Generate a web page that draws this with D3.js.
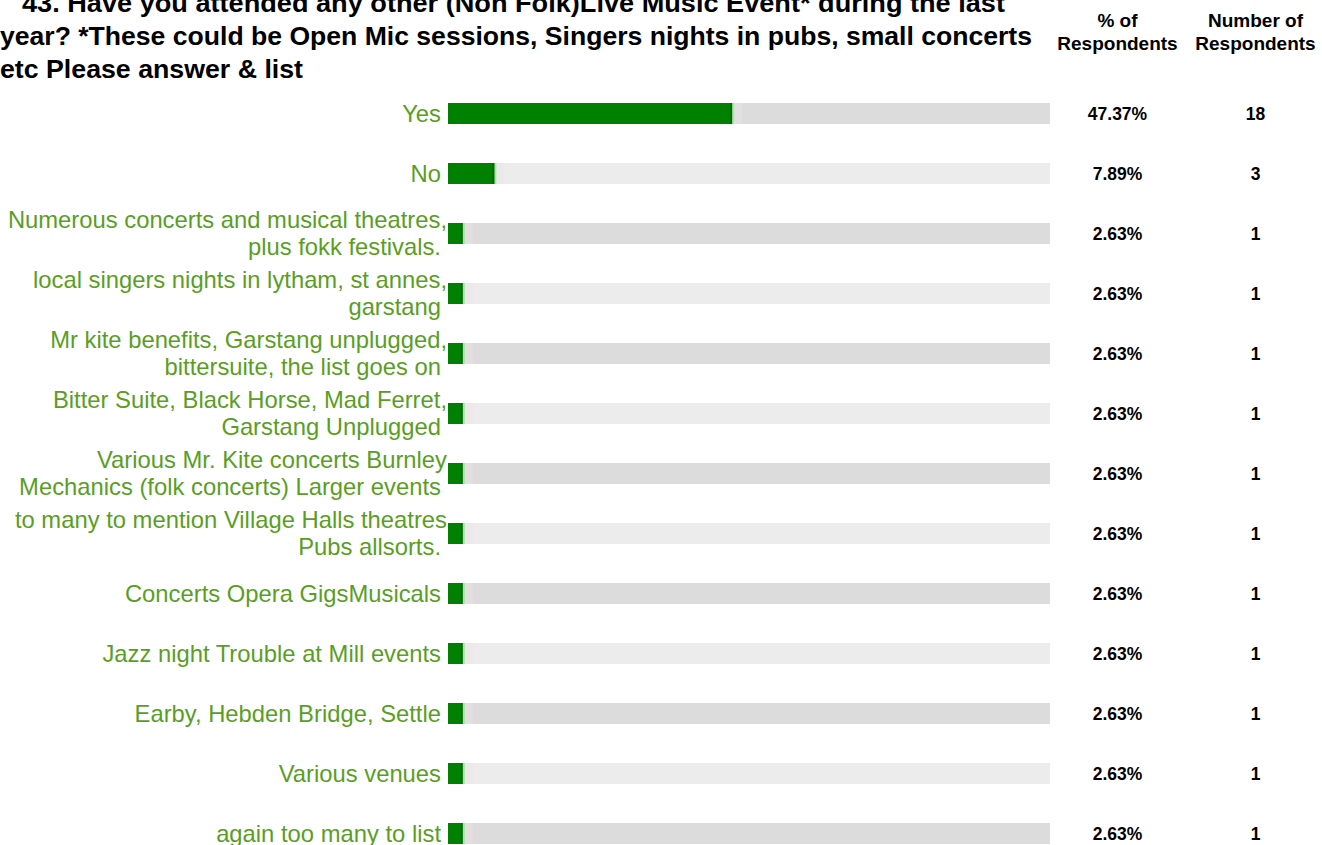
<!DOCTYPE html>
<html>
<head>
<meta charset="utf-8">
<script src="https://cdn.jsdelivr.net/npm/d3@7"></script>
<style>
  body { margin: 0; background: #fff; }
  svg { display: block; font-family: "Liberation Sans", Arial, sans-serif; }
</style>
</head>
<body>
<svg id="chart" width="1322" height="845"></svg>
<script>
// title lines as they wrap in the picture
var titleLines = [
    "43. Have you attended any other (Non Folk)Live Music Event* during the last",
    "year? *These could be Open Mic sessions, Singers nights in pubs, small concerts",
    "etc Please answer & list"
];

// answer labels (each entry holds its wrapped lines)
var answers = [
    ["Yes"],
    ["No"],
    ["Numerous concerts and musical theatres,", "plus fokk festivals."],
    ["local singers nights in lytham, st annes,", "garstang"],
    ["Mr kite benefits, Garstang unplugged,", "bittersuite, the list goes on"],
    ["Bitter Suite, Black Horse, Mad Ferret,", "Garstang Unplugged"],
    ["Various Mr. Kite concerts Burnley", "Mechanics (folk concerts) Larger events"],
    ["to many to mention Village Halls theatres", "Pubs allsorts."],
    ["Concerts Opera GigsMusicals"],
    ["Jazz night Trouble at Mill events"],
    ["Earby, Hebden Bridge, Settle"],
    ["Various venues"],
    ["again too many to list"]
];

var percents = [47.37, 7.89, 2.63, 2.63, 2.63, 2.63, 2.63, 2.63, 2.63, 2.63, 2.63, 2.63, 2.63];
var counts = [18, 3, 1, 1, 1, 1, 1, 1, 1, 1, 1, 1, 1];

var headers = [["% of", "Respondents"], ["Number of", "Respondents"]];

var svg = d3.select("#chart");

var x = d3.scaleLinear().domain([0, 100]).range([448, 1050]);
var y = d3.scaleBand()
    .domain(d3.range(answers.length))
    .range([83.5, 863.5])
    .paddingInner(0.65)
    .paddingOuter(0.325);

var labelColor = "#5a9e1f";

// title
var titleWidths = [983, 1032, 303];
var titleX = [22, 0, 0];
svg.append("g").selectAll("text")
    .data(titleLines)
    .enter()
    .append("text")
    .attr("x", (d, i) => titleX[i])
    .attr("y", (d, i) => 12 + i * 33)
    .attr("textLength", (d, i) => titleWidths[i])
    .attr("lengthAdjust", "spacingAndGlyphs")
    .style("font-size", "26.5px")
    .style("font-weight", "bold")
    .attr("fill", "#000")
    .text(d => d);

// column headers
var colX = [1117.5, 1255.5];
headers.forEach(function (h, c) {
    svg.append("g").selectAll("text")
        .data(h)
        .enter()
        .append("text")
        .attr("x", colX[c])
        .attr("y", (d, i) => 27 + i * 23)
        .attr("text-anchor", "middle")
        .style("font-size", "19px")
        .style("font-weight", "bold")
        .text(d => d);
});

var rows = svg.append("g").selectAll("g")
    .data(answers)
    .enter()
    .append("g");

// track behind each bar
rows.append("rect")
    .attr("x", x(0))
    .attr("y", (d, i) => y(i))
    .attr("width", x(100) - x(0))
    .attr("height", y.bandwidth())
    .attr("fill", (d, i) => i % 2 == 0 ? "#dcdcdc" : "#ececec");

// green bar
rows.append("rect")
    .attr("x", x(0))
    .attr("y", (d, i) => y(i))
    .attr("width", (d, i) => x(percents[i]) - x(0))
    .attr("height", y.bandwidth())
    .attr("fill", "#008000");

// soft end of the bar
rows.append("rect")
    .attr("x", (d, i) => x(percents[i]) - 3)
    .attr("y", (d, i) => y(i))
    .attr("width", 2)
    .attr("height", y.bandwidth())
    .attr("fill", "#006a0c");
rows.append("rect")
    .attr("x", (d, i) => x(percents[i]) - 1)
    .attr("y", (d, i) => y(i))
    .attr("width", 2)
    .attr("height", y.bandwidth())
    .attr("fill", "#a6e6a6");
rows.append("rect")
    .attr("x", (d, i) => x(percents[i]) + 1)
    .attr("y", (d, i) => y(i))
    .attr("width", 8)
    .attr("height", y.bandwidth())
    .attr("fill", "#f2e6ea")
    .attr("opacity", 0.35);

// labels
rows.each(function (lines, i) {
    var c = y(i) + y.bandwidth() / 2;
    var n = lines.length;
    d3.select(this).selectAll("text.label")
        .data(lines)
        .enter()
        .append("text")
        .attr("class", "label")
        .attr("x", (d, j) => j == n - 1 ? 441 : 447)
        .attr("y", (d, j) => c + 8 + (j - (n - 1) / 2) * 27)
        .attr("text-anchor", "end")
        .attr("fill", labelColor)
        .style("font-size", "23.8px")
        .text(d => d);
});

// values
rows.append("text")
    .attr("x", colX[0])
    .attr("y", (d, i) => y(i) + y.bandwidth() / 2 + 6.5)
    .attr("text-anchor", "middle")
    .style("font-size", "17.5px")
    .style("font-weight", "bold")
    .text((d, i) => percents[i].toFixed(2) + "%");

rows.append("text")
    .attr("x", colX[1])
    .attr("y", (d, i) => y(i) + y.bandwidth() / 2 + 6.5)
    .attr("text-anchor", "middle")
    .style("font-size", "17.5px")
    .style("font-weight", "bold")
    .text((d, i) => counts[i]);
</script>
</body>
</html>
